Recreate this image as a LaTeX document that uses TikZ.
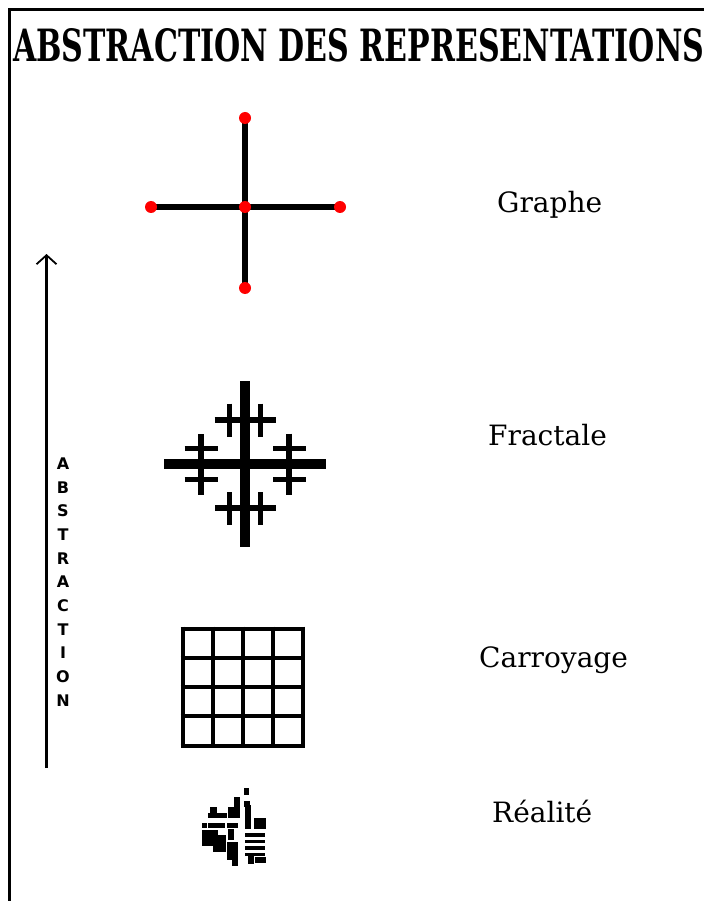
\documentclass[tikz,border=0pt]{standalone}
\usepackage{fontspec}
\setmainfont{DejaVu Serif}
\newfontfamily\lettersfont{DejaVu Sans}
\usetikzlibrary{arrows.meta}
\begin{document}
\begin{tikzpicture}[x=1pt,y=-1pt,
  frameline/.style={line width=3pt,black},
  edge/.style={line width=6pt,black},
  vertex/.style={circle,fill=red,inner sep=0pt,minimum size=11pt},
  lbl/.style={anchor=base west,inner sep=0pt,font=\fontsize{28}{30}\selectfont},
  vletter/.style={inner sep=0pt,font=\lettersfont\bfseries\fontsize{16}{18}\selectfont},
  gridline/.style={line width=4pt,black},
  blob/.style={fill=black,draw=none}]
\useasboundingbox (0,0) rectangle (704,901);
\fill[white] (0,0) rectangle (704,901);
% frame
\draw[frameline] (9,10) -- (704,10);
\draw[frameline] (9,8.5) -- (9,901);
% title
\node[anchor=west,inner sep=0pt] (title) at (13,45.5)
  {\resizebox{691pt}{33pt}{\bfseries ABSTRACTION DES REPRESENTATIONS}};
% abstraction arrow
\coordinate (abot) at (46.5,768);
\coordinate (atop) at (46.5,254);
\draw[line width=3pt,-{Straight Barb[length=9pt,width=20pt,line width=1.8pt]}] (abot) -- (atop);
\foreach \l [count=\i from 0] in {A,B,S,T,R,A,C,T,I,O,N}
  \node[vletter] (v\i) at (63,{463.5+23.7*\i}) {\l};
% graph
\node[vertex] (gc) at (245,207) {};
\node[vertex] (gt) at (245,118) {};
\node[vertex] (gb) at (245,288) {};
\node[vertex] (gl) at (151,207) {};
\node[vertex] (gr) at (340,207) {};
\draw[edge] (gt.center) -- (gb.center);
\draw[edge] (gl.center) -- (gr.center);
\foreach \n in {gc,gt,gb,gl,gr} \fill[red] (\n) circle (6pt);
\node[lbl] (lgraphe) at (497,213) {Graphe};
% fractal
\begin{scope}[shift={(245,464)}]
  \draw[line width=10pt] (0,-83) -- (0,83);
  \draw[line width=10pt] (-81,0) -- (81,0);
  \foreach \r in {0,90,180,270}{
    \begin{scope}[rotate=\r]
      \draw[line width=5.5pt] (-30.5,-44) -- (30.5,-44);
      \draw[line width=4.5pt] (-15.5,-60.5) -- (-15.5,-27.5);
      \draw[line width=4.5pt] (15.5,-60.5) -- (15.5,-27.5);
    \end{scope}}
\end{scope}
\node[lbl] (lfractale) at (488,445) {Fractale};
% grid
\foreach \i in {0,...,4}{
  \draw[gridline] ({182.5+30*\i},626.5) -- ({182.5+30*\i},747.5);
  \draw[gridline] (180.5,{628.5+29.25*\i}) -- (304.5,{628.5+29.25*\i});
}
\node[lbl] (lcarroyage) at (479,667) {Carroyage};
% reality blob
\foreach \a/\b/\c/\d in {
  244/788/249/795,
  234/797/240/813, 244/801/250/807,
  210/807/217/813, 228/807/240/818, 245/805/251/829,
  208/813/227/818, 254/818/266/829,
  202/823/207/828, 208/823/225/828, 227/823/238/828,
  202/830/218/846, 213/835/226/852, 228/829/234/840,
  245/833/265/837, 245/840/265/843, 245/846/265/850, 245/853/265/856,
  227/842/238/860, 232/855/238/866, 248/853/254/864, 255/857/266/863}
  \fill[blob] (\a,\b) rectangle (\c,\d);
\node[lbl] (lrealite) at (492,822) {Réalité};
\end{tikzpicture}
\end{document}
